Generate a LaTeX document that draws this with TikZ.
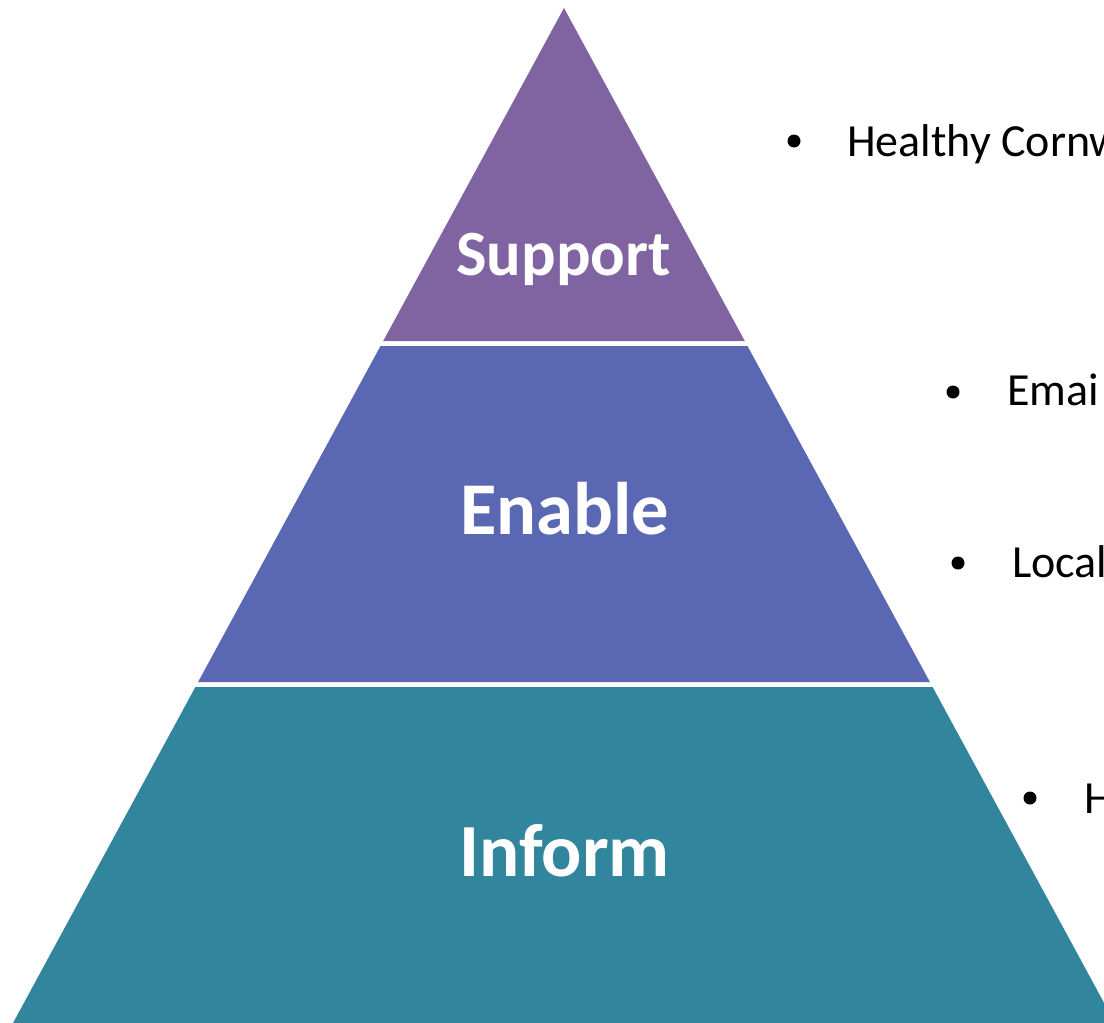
\documentclass[tikz,border=0pt]{standalone}
\usepackage{fontspec}
\setmainfont{Carlito}
\definecolor{tierpurple}{HTML}{8064A2}
\definecolor{tierblue}{HTML}{5A67B3}
\definecolor{tierteal}{HTML}{31859C}
\tikzset{
  tierlabel/.style={text=white, font=\bfseries, anchor=base, inner sep=0pt},
  bulletdot/.style={circle, fill=black, minimum size=13pt, inner sep=0pt},
  itemtext/.style={anchor=base west, inner sep=0pt, font=\fontsize{46}{54}\selectfont}
}
\begin{document}
\begin{tikzpicture}[x=1pt,y=-1pt]
\useasboundingbox (0,0) rectangle (1104,1023);
\clip (0,0) rectangle (1104,1023);
% tiers
\fill[tierpurple] (564,8) -- (744.8,341) -- (383.2,341) -- cycle;
\fill[tierblue] (380.5,346) -- (747.5,346) -- (929.9,682) -- (198.1,682) -- cycle;
\fill[tierteal] (195.4,687) -- (932.6,687) -- (1115,1023) -- (13,1023) -- cycle;
% tier labels
\node[tierlabel, font=\fontsize{64.5}{70}\bfseries\selectfont] (support) at (563.5,275) {Support};
\node[tierlabel, font=\fontsize{74.5}{80}\bfseries\selectfont] (enable) at (564.5,534) {Enable};
\node[tierlabel, font=\fontsize{75}{80}\bfseries\selectfont] (inform) at (564.5,876) {Inform};
% bullet list items (clipped at the right edge, as in the reference)
\node[bulletdot] (b1) at (794,141) {};
\node[itemtext] (t1) at (847,156) {Healthy Cornw};
\node[bulletdot] (b2) at (953,392) {};
\node[itemtext] (t2) at (1007,405) {Emai};
\node[bulletdot] (b3) at (958,563) {};
\node[itemtext] (t3) at (1012,577) {Local};
\node[bulletdot] (b4) at (1030,798) {};
\node[itemtext] (t4) at (1084,813) {H};
\end{tikzpicture}
\end{document}
